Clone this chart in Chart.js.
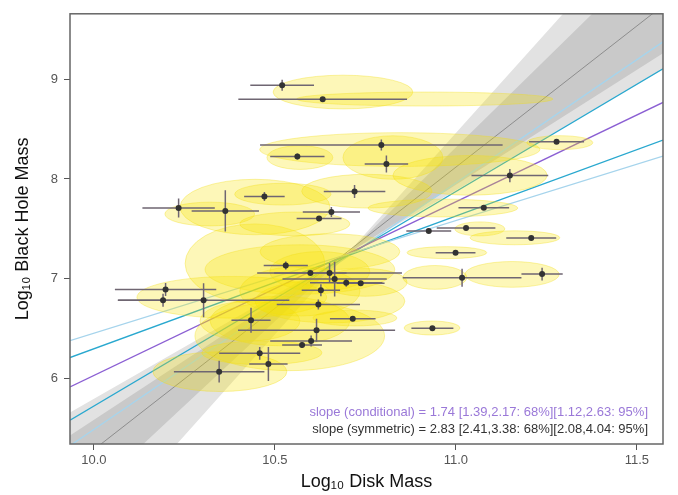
<!DOCTYPE html>
<html>
<head>
<meta charset="utf-8">
<script src="https://cdn.jsdelivr.net/npm/chart.js@4.4.0/dist/chart.umd.min.js"></script>
<style>
html, body { margin: 0; padding: 0; background: #fff; }
#wrap { width: 678px; height: 495px; }
</style>
</head>
<body>
<div id="wrap"><canvas id="chart"></canvas></div>
<script>
// axis ranges and ticks
var xMin = 9.934, xMax = 11.572;
var yMin = 5.345, yMax = 9.655;
var xTicks = [10.0, 10.5, 11.0, 11.5];
var yTicks = [6, 7, 8, 9];

// galaxies: log disk mass, log black hole mass and their errors
var diskMass = [10.520, 10.632, 10.794, 10.562, 10.808, 10.471, 10.234, 10.363, 10.530, 10.198,
                10.191, 10.303, 10.434, 10.458, 10.482, 10.346, 10.720, 10.656, 10.622, 10.925,
                11.028, 10.999, 11.017, 10.598, 10.651, 10.665, 10.697, 10.737, 10.627, 10.620,
                10.615, 10.600, 10.575, 10.715, 10.935, 11.238, 11.077, 11.149, 11.208, 11.278];
var bhMass   = [8.94, 8.80, 8.34, 8.225, 8.15, 7.825, 7.71, 7.68, 7.133, 6.892,
                6.785, 6.785, 6.584, 6.253, 6.147, 6.07, 7.875, 7.67, 7.603, 7.48,
                7.51, 7.26, 7.01, 7.058, 7.058, 6.997, 6.96, 6.955, 6.885, 6.743,
                6.485, 6.378, 6.336, 6.60, 6.505, 7.047, 7.712, 8.034, 7.41, 8.374];
var diskErr  = [0.088, 0.233, 0.335, 0.075, 0.06, 0.056, 0.10, 0.093, 0.061, 0.14,
                0.124, 0.237, 0.054, 0.112, 0.053, 0.125, 0.085, 0.079, 0.062, 0.062,
                0.081, 0.055, 0.164, 0.10, 0.20, 0.144, 0.10, 0.066, 0.053, 0.115,
                0.217, 0.113, 0.055, 0.063, 0.058, 0.057, 0.07, 0.106, 0.069, 0.076];
var bhErr    = [0.055, 0.02, 0.055, 0.03, 0.085, 0.045, 0.095, 0.207, 0.04, 0.065,
                0.065, 0.17, 0.125, 0.063, 0.17, 0.11, 0.066, 0.05, 0.02, 0.02,
                0.02, 0.02, 0.09, 0.02, 0.10, 0.175, 0.04, 0.02, 0.06, 0.05,
                0.115, 0.055, 0.03, 0.02, 0.02, 0.065, 0.02, 0.066, 0.02, 0.02];

// yellow ellipses (centre and half widths, data units)
var ellX  = [10.688, 10.914, 10.845, 10.569, 10.826, 11.039, 10.445, 10.522, 10.754, 10.964,
             11.066, 11.163, 10.975, 11.155, 11.287, 10.445, 10.381, 10.348, 10.464, 10.541,
             10.652, 10.749, 10.942, 10.934, 10.721, 10.555, 10.652, 10.569, 10.320, 10.431,
             10.569, 10.514, 10.624];
var ellY  = [8.871, 8.801, 8.295, 8.215, 8.215, 8.037, 7.719, 7.848, 7.878, 7.709,
             7.500, 7.411, 7.262, 7.044, 8.364, 7.153, 6.815, 6.070, 6.259, 6.428,
             6.776, 6.964, 7.014, 6.507, 6.607, 7.550, 7.272, 7.093, 7.649, 6.577,
             6.875, 6.577, 7.074];
var ellRx = [0.193, 0.354, 0.387, 0.091, 0.138, 0.213, 0.207, 0.133, 0.180, 0.207,
             0.069, 0.124, 0.110, 0.130, 0.091, 0.193, 0.262, 0.185, 0.166, 0.262,
             0.207, 0.116, 0.088, 0.077, 0.116, 0.152, 0.193, 0.262, 0.124, 0.138,
             0.166, 0.193, 0.138];
var ellRy = [0.169, 0.070, 0.169, 0.119, 0.218, 0.199, 0.278, 0.109, 0.169, 0.089,
             0.070, 0.070, 0.060, 0.129, 0.070, 0.397, 0.209, 0.199, 0.119, 0.348,
             0.218, 0.139, 0.119, 0.070, 0.079, 0.119, 0.179, 0.248, 0.119, 0.199,
             0.248, 0.248, 0.199];

// fitted lines: slope and value at the pivot
var fitPivotX = 10.7;
var fitSlope   = [2.83, 2.47, 2.15, 1.74, 1.33, 1.13];
var fitAtPivot = [7.27, 7.22, 7.23, 7.25, 7.23, 7.245];
var fitColor   = ['#8d8d8d', '#a6d4ec', '#29a8cf', '#8b5fd3', '#29a8cf', '#a6d4ec'];

// confidence bands of the symmetric fit
var bandX    = [9.934, 10.7, 11.572];
var band95Lo = [4.15, 7.25, 9.10];
var band95Hi = [5.66, 7.25, 10.77];
var band68Lo = [4.66, 7.25, 9.26];
var band68Hi = [5.43, 7.25, 10.35];

Chart.defaults.font.family = "'Liberation Sans', Arial, sans-serif";

function pts(xs, ys) {
    return xs.map(function(x, i){ return {x: x, y: ys[i]}; });
}

// higher order is drawn first
var datasets = [];
datasets.push({ label: 'b95lo', order: 40, data: pts(bandX, band95Lo), showLine: true, pointRadius: 0, borderWidth: 0, fill: false });
datasets.push({ label: 'b95hi', order: 39, data: pts(bandX, band95Hi), showLine: true, pointRadius: 0, borderWidth: 0, fill: '-1', backgroundColor: '#e2e2e2' });
datasets.push({ label: 'b68lo', order: 38, data: pts(bandX, band68Lo), showLine: true, pointRadius: 0, borderWidth: 0, fill: false });
datasets.push({ label: 'b68hi', order: 37, data: pts(bandX, band68Hi), showLine: true, pointRadius: 0, borderWidth: 0, fill: '-1', backgroundColor: '#c9c9c9' });

for (var i = 0; i < fitSlope.length; i++) {
    datasets.push({
        label: 'fit' + i,
        order: 20 - i,
        data: [
            {x: xMin, y: fitAtPivot[i] + fitSlope[i] * (xMin - fitPivotX)},
            {x: xMax, y: fitAtPivot[i] + fitSlope[i] * (xMax - fitPivotX)}
        ],
        showLine: true, pointRadius: 0, fill: false,
        borderColor: fitColor[i], borderWidth: i == 0 ? 1 : 1.3
    });
}

datasets.push({
    label: 'Galaxies',
    order: 0,
    data: pts(diskMass, bhMass),
    pointRadius: 3, pointBackgroundColor: '#333', pointBorderWidth: 0, showLine: false
});

var overlay = {
    id: 'overlay',
    beforeDatasetDraw: function(chart, args) {
        if (chart.data.datasets[args.index].label !== 'Galaxies') return;
        var ctx = chart.ctx, xs = chart.scales.x, ys = chart.scales.y, a = chart.chartArea;
        ctx.save();
        ctx.beginPath();
        ctx.rect(a.left, a.top, a.right - a.left, a.bottom - a.top);
        ctx.clip();
        for (var i = 0; i < ellX.length; i++) {
            var cx = xs.getPixelForValue(ellX[i]), cy = ys.getPixelForValue(ellY[i]);
            var rx = Math.abs(xs.getPixelForValue(ellX[i] + ellRx[i]) - cx);
            var ry = Math.abs(ys.getPixelForValue(ellY[i] + ellRy[i]) - cy);
            ctx.beginPath();
            ctx.ellipse(cx, cy, rx, ry, 0, 0, Math.PI * 2);
            ctx.fillStyle = 'rgba(247,227,0,0.28)';
            ctx.fill();
            ctx.strokeStyle = 'rgba(240,222,20,0.35)';
            ctx.lineWidth = 1;
            ctx.stroke();
        }
        ctx.strokeStyle = '#6f6672';
        ctx.lineWidth = 1.5;
        for (var j = 0; j < diskMass.length; j++) {
            var px = xs.getPixelForValue(diskMass[j]), py = ys.getPixelForValue(bhMass[j]);
            ctx.beginPath();
            ctx.moveTo(xs.getPixelForValue(diskMass[j] - diskErr[j]), py);
            ctx.lineTo(xs.getPixelForValue(diskMass[j] + diskErr[j]), py);
            ctx.moveTo(px, ys.getPixelForValue(bhMass[j] - bhErr[j]));
            ctx.lineTo(px, ys.getPixelForValue(bhMass[j] + bhErr[j]));
            ctx.stroke();
        }
        ctx.restore();
    },
    afterDraw: function(chart) {
        var ctx = chart.ctx, a = chart.chartArea;
        ctx.save();
        ctx.strokeStyle = '#666';
        ctx.lineWidth = 1.5;
        ctx.strokeRect(a.left, a.top, a.right - a.left, a.bottom - a.top);
        ctx.font = "13px 'Liberation Sans', Arial, sans-serif";
        ctx.textAlign = 'right';
        ctx.textBaseline = 'middle';
        ctx.fillStyle = '#9a78d8';
        ctx.fillText('slope (conditional) = 1.74 [1.39,2.17: 68%][1.12,2.63: 95%]', a.right - 15, a.bottom - 32);
        ctx.fillStyle = '#333';
        ctx.fillText('slope (symmetric) = 2.83 [2.41,3.38: 68%][2.08,4.04: 95%]', a.right - 15, a.bottom - 15);
        ctx.restore();
    }
};

new Chart(document.getElementById('chart'), {
    type: 'scatter',
    data: { datasets: datasets },
    options: {
        responsive: true,
        maintainAspectRatio: false,
        animation: false,
        layout: { padding: { left: 0, right: 15, top: 10, bottom: 0 } },
        plugins: { legend: { display: false }, tooltip: { enabled: false } },
        scales: {
            x: {
                type: 'linear', min: xMin, max: xMax,
                afterBuildTicks: function(s){ s.ticks = xTicks.map(function(v){ return {value: v}; }); },
                afterFit: function(s){ s.height = 51; },
                ticks: { autoSkip: false, maxRotation: 0, padding: 3, color: '#555', font: { size: 13 },
                         callback: function(v){ return Number(v).toFixed(1); } },
                grid: { display: true, drawOnChartArea: false, drawTicks: true, tickLength: 6, color: '#555' },
                border: { display: false },
                title: { display: true, text: 'Log\u2081\u2080 Disk Mass', color: '#111',
                         font: { size: 18 }, padding: { top: 0, bottom: 2 } }
            },
            y: {
                type: 'linear', min: yMin, max: yMax,
                afterBuildTicks: function(s){ s.ticks = yTicks.map(function(v){ return {value: v}; }); },
                afterFit: function(s){ s.width = 70; },
                ticks: { autoSkip: false, padding: 6, color: '#555', font: { size: 13 } },
                grid: { display: true, drawOnChartArea: false, drawTicks: true, tickLength: 6, color: '#555' },
                border: { display: false },
                title: { display: true, text: 'Log\u2081\u2080 Black Hole Mass', color: '#111',
                         font: { size: 18 }, padding: { top: 12, bottom: 0 } }
            }
        }
    },
    plugins: [overlay]
});
</script>
</body>
</html>
